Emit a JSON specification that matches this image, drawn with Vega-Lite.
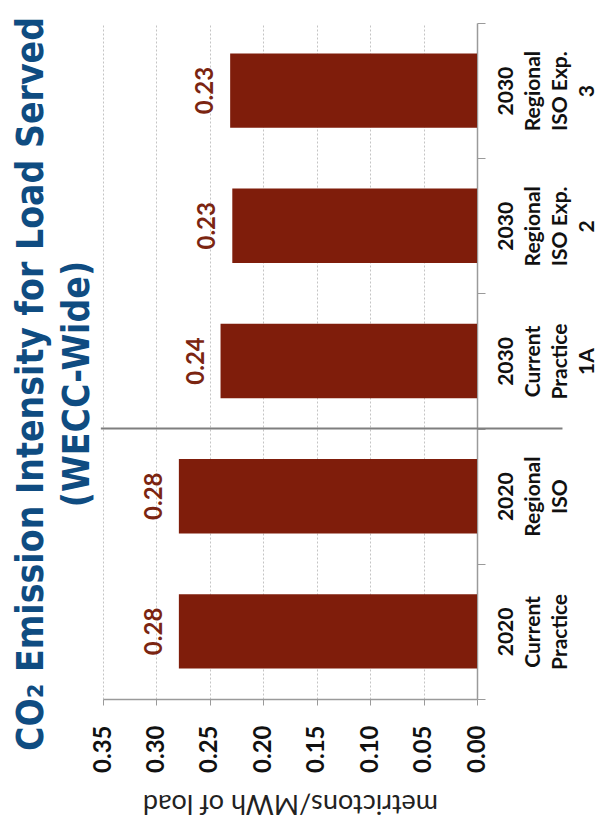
{
  "$schema": "https://vega.github.io/schema/vega-lite/v6.json",
  "autosize": "none",
  "padding": {"left": 103, "top": 23, "right": 123, "bottom": 128},
  "width": 374,
  "height": 676,
  "background": "white",
  "title": {
    "text": ["CO₂ Emission Intensity for Load Served", "(WECC-Wide)"],
    "orient": "left",
    "anchor": "middle",
    "font": "DejaVu Sans Condensed",
    "fontSize": 37,
    "fontWeight": "bold",
    "color": "#0F4C81",
    "lineHeight": 46,
    "offset": -6,
    "dx": -23
  },
  "config": {"view": {"stroke": null}, "font": "Lato"},
  "data": {
    "values": [
      {"scenario": "2020|Current|Practice", "intensity": 0.279},
      {"scenario": "2020|Regional|ISO", "intensity": 0.279},
      {"scenario": "2030|Current|Practice|1A", "intensity": 0.240},
      {"scenario": "2030|Regional|ISO Exp.|2", "intensity": 0.229},
      {"scenario": "2030|Regional|ISO Exp.|3", "intensity": 0.231}
    ]
  },
  "layer": [
    {
      "mark": {"type": "bar", "color": "#7F1D0B", "height": {"band": 0.55}},
      "encoding": {
        "y": {
          "field": "scenario",
          "type": "nominal",
          "title": null,
          "sort": null,
          "scale": {"domain": ["2030|Regional|ISO Exp.|3", "2030|Regional|ISO Exp.|2", "2030|Current|Practice|1A", "2020|Regional|ISO", "2020|Current|Practice"], "paddingInner": 0, "paddingOuter": 0},
          "axis": {
            "orient": "right",
            "grid": false,
            "labelExpr": "split(datum.label, '|')",
            "labelAngle": 270,
            "labelAlign": "center",
            "labelBaseline": "top",
            "labelFont": "Lato",
            "labelFontSize": 21,
            "labelFontWeight": "bold",
            "labelColor": "#111111",
            "labelLineHeight": 27,
            "labelPadding": 10,
            "tickBand": "extent",
            "tickSize": 8,
            "tickColor": "#9a9a9a",
            "domainColor": "#9a9a9a",
            "domainWidth": 1.5
          }
        },
        "x": {
          "field": "intensity",
          "type": "quantitative",
          "title": "metrictons/MWh of load",
          "scale": {"domain": [0, 0.35], "reverse": true, "nice": false},
          "axis": {
            "orient": "bottom",
            "values": [0, 0.05, 0.1, 0.15, 0.2, 0.25, 0.3, 0.35],
            "format": ".2f",
            "labelAngle": 270,
            "labelAlign": "right",
            "labelBaseline": "middle",
            "labelFont": "Lato",
            "labelFontSize": 24,
            "labelFontWeight": "bold",
            "labelColor": "#111111",
            "labelPadding": 20,
            "tickSize": 6,
            "tickColor": "#9a9a9a",
            "domainColor": "#9a9a9a",
            "domainWidth": 1.5,
            "grid": true,
            "gridDash": [2, 2],
            "gridColor": "#c4c4c4",
            "titleAngle": 180,
            "titleBaseline": "alphabetic",
            "titleY": 95,
            "titleFont": "Lato",
            "titleFontSize": 27,
            "titleFontWeight": "normal",
            "titleColor": "#222222"
          }
        }
      }
    },
    {
      "mark": {"type": "text", "angle": 270, "align": "center", "baseline": "alphabetic", "dy": -17, "font": "Lato", "fontSize": 24, "fontWeight": "bold", "color": "#7B2511"},
      "encoding": {
        "y": {"field": "scenario", "type": "nominal", "title": null, "sort": null},
        "x": {"field": "intensity", "type": "quantitative", "title": "metrictons/MWh of load"},
        "text": {"field": "intensity", "type": "quantitative", "format": ".2f"}
      }
    },
    {
      "data": {"values": [{"boundary": "2020|Regional|ISO", "from": 0.352, "to": -0.08}]},
      "mark": {"type": "rule", "color": "#7F7F7F", "strokeWidth": 2, "clip": false},
      "encoding": {
        "y": {"field": "boundary", "type": "nominal", "bandPosition": 0, "title": null, "sort": null},
        "x": {"field": "from", "type": "quantitative", "title": "metrictons/MWh of load"},
        "x2": {"field": "to"}
      }
    }
  ]
}
